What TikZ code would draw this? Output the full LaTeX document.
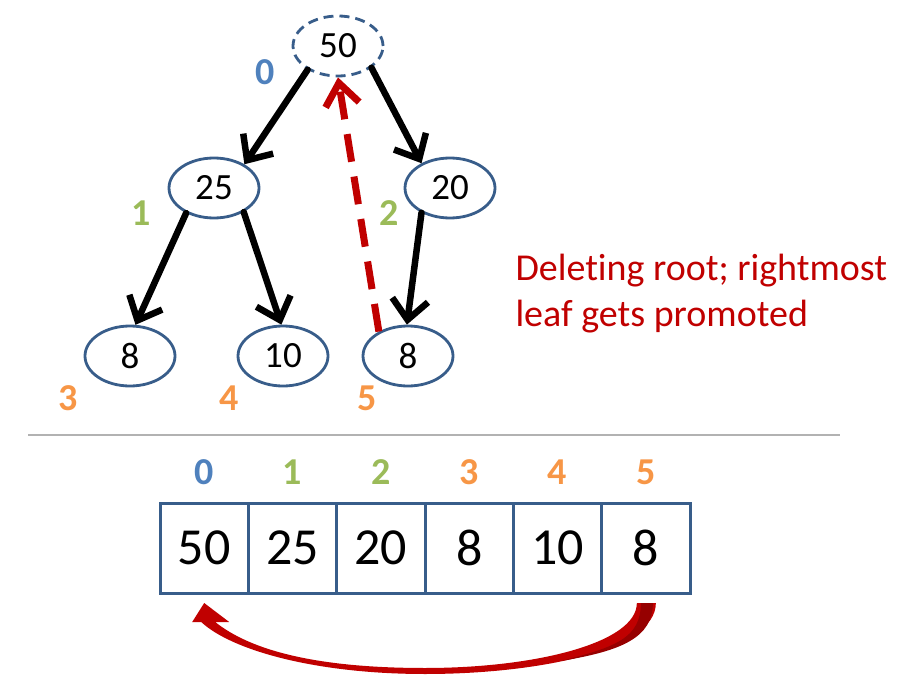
\documentclass[tikz,border=0pt]{standalone}
\usepackage{fontspec}
\setmainfont[Ligatures=NoCommon]{Carlito}
\usetikzlibrary{shapes.geometric, positioning, arrows.meta, calc}
\definecolor{nodeblue}{RGB}{56,93,138}
\definecolor{idxblue}{RGB}{79,129,189}
\definecolor{idxgreen}{RGB}{155,187,89}
\definecolor{idxorange}{RGB}{247,150,70}
\definecolor{promored}{RGB}{192,0,0}
\definecolor{promodark}{RGB}{150,0,0}
\tikzset{
    x=1pt, y=-1pt, % one unit per pixel of the slide, y going down
    heapnode/.style={ellipse, draw=nodeblue, line width=2.8pt, minimum width=90pt, minimum height=60pt, inner sep=0pt, font=\fontsize{37}{40}\selectfont}, % tree nodes
    heapedge/.style={line width=6.5pt, line cap=round, line join=round, -{Straight Barb[length=20pt,width=36pt]}}, % parent to child
    promoteedge/.style={draw=promored, line width=7pt, dash pattern=on 28pt off 15pt, -{Straight Barb[length=22pt,width=34pt]}},
    index/.style={font=\fontsize{38}{40}\selectfont\bfseries}, % array positions
    cell/.style={rectangle, draw=nodeblue, line width=3pt, minimum width=88.33pt, minimum height=90pt, inner sep=0pt, outer sep=0pt, font=\fontsize{52}{56}\selectfont},
    }

\begin{document}
\begin{tikzpicture}
\useasboundingbox (0,0) rectangle (908,698);

% the tree
\node[heapnode, dash pattern=on 10pt off 6pt] (root) at (338,46) {50};
\node[heapnode] (n25) at (214,188) {25};
\node[heapnode] (n20) at (450,188) {20};
\node[heapnode] (n8a) at (130,356) {8};
\node[heapnode] (n10) at (283,356) {10};
\node[heapnode] (n8b) at (408,356) {8};

\node[index, text=idxblue] (t0) at (265,72) {0};
\node[index, text=idxgreen] (t1) at (141,213) {1};
\node[index, text=idxgreen] (t2) at (389,213) {2};
\node[index, text=idxorange] (t3) at (68,398) {3};
\node[index, text=idxorange] (t4) at (229,398) {4};
\node[index, text=idxorange] (t5) at (367,398) {5};

\draw[heapedge] (root.218) -- (n25.38);
\draw[heapedge] (root.327) -- (n20.139);
\draw[heapedge] (n25.222) -- (n8a.80);
\draw[heapedge] (n25.321) -- (n10.93);
\draw[heapedge] (n20.221) -- (n8b.92);
\draw[promoteedge] (n8b.140) -- (root.south);

\node[text=promored, align=left, anchor=west, font=\fontsize{38}{46}\selectfont] (note) at (512,294) {Deleting root; rightmost\\leaf gets promoted};

\draw[line width=1.2pt, black!30] (28,435) -- (840,435);

% the array
\node[cell] (c0) at (204.2,548) {50};
\node[cell, right=0pt of c0] (c1) {25};
\node[cell, right=0pt of c1] (c2) {20};
\node[cell, right=0pt of c2] (c3) {8};
\node[cell, right=0pt of c3] (c4) {10};
\node[cell, right=0pt of c4] (c5) {8};

\node[index, text=idxblue] (a0) at ($(c0.north)+(0,-31)$) {0};
\node[index, text=idxgreen] (a1) at ($(c1.north)+(0,-31)$) {1};
\node[index, text=idxgreen] (a2) at ($(c2.north)+(0,-31)$) {2};
\node[index, text=idxorange] (a3) at ($(c3.north)+(0,-31)$) {3};
\node[index, text=idxorange] (a4) at ($(c4.north)+(0,-31)$) {4};
\node[index, text=idxorange] (a5) at ($(c5.north)+(0,-31)$) {5};

% last element moves to the front
\coordinate (arcfrom) at ($(c5.south)+(0,10)$);
\coordinate (arcto) at ($(c0.south)+(0,10)$);
\coordinate (arcbot) at ($(arcfrom)!0.5!(arcto)+(0,71)$);
\fill[promored] ([shift={(10,0)}]arcfrom) .. controls +(0,48) and +(110,0) .. (arcbot)
    .. controls +(-110,0) and +(30,28) .. ([shift={(-3,19)}]arcto)
    -- ([shift={(-12,19)}]arcto) -- (arcto) -- ([shift={(25,19)}]arcto) -- ([shift={(11,19)}]arcto)
    .. controls +(35,28) and +(-110,0) .. ([shift={(0,-6)}]arcbot)
    .. controls +(110,0) and +(0,40) .. ([shift={(-9,0)}]arcfrom) -- cycle;
\fill[promodark] ([shift={(-5,0)}]arcfrom) -- ([shift={(7,0)}]arcfrom) .. controls +(0,35) and +(60,-10) .. ([shift={(-85,58)}]arcfrom)
    .. controls +(55,-14) and +(0,35) .. ([shift={(-5,0)}]arcfrom) -- cycle;

\end{tikzpicture}
\end{document}
